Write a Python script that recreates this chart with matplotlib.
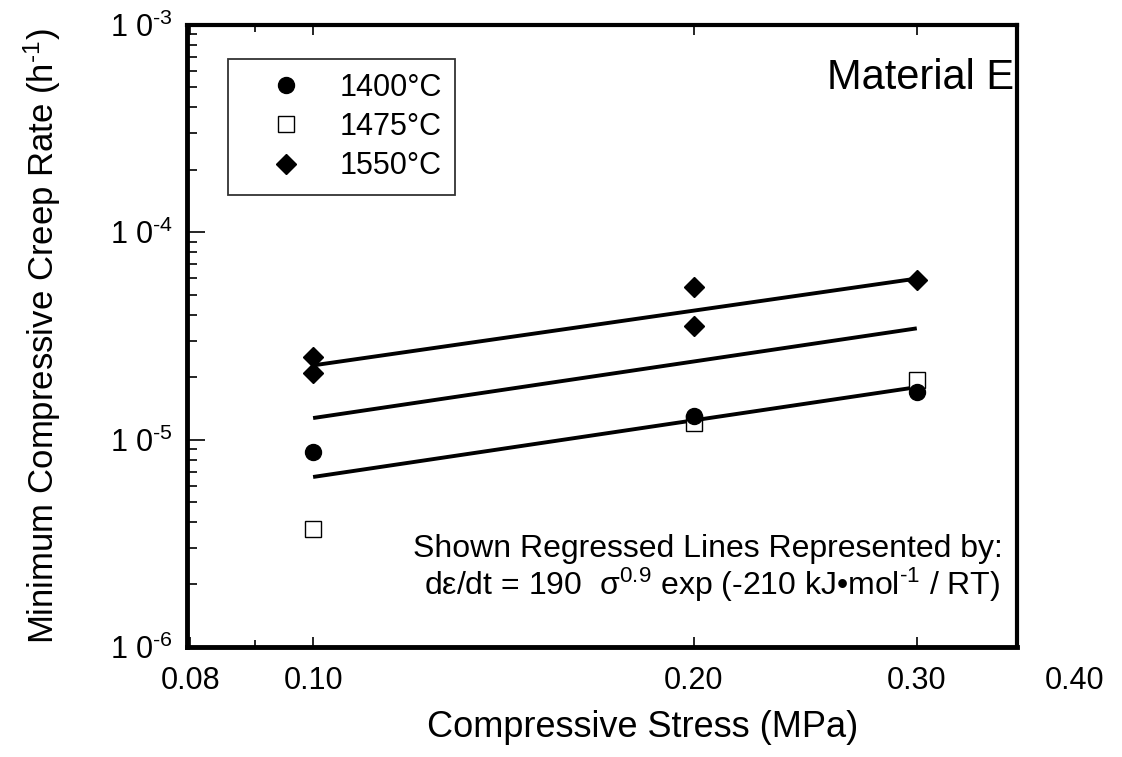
import matplotlib
matplotlib.use("Agg")
import matplotlib.pyplot as plt
from matplotlib.ticker import FixedLocator, NullFormatter, FixedFormatter, LogLocator
from matplotlib.transforms import ScaledTranslation

plt.rcParams['font.family'] = ['Liberation Sans', 'DejaVu Sans']
plt.rcParams['mathtext.fontset'] = 'custom'
plt.rcParams['mathtext.rm'] = 'Liberation Sans'
plt.rcParams['mathtext.it'] = 'Liberation Sans'
plt.rcParams['mathtext.bf'] = 'Liberation Sans'

# ---- data ----
stress_1400 = [0.1, 0.2, 0.3]
rate_1400 = [8.7e-6, 1.30e-5, 1.69e-5]
stress_1475 = [0.1, 0.2, 0.3]
rate_1475 = [3.7e-6, 1.2e-5, 1.93e-5]
stress_1550 = [0.1, 0.1, 0.2, 0.2, 0.3]
rate_1550 = [2.49e-5, 2.09e-5, 5.42e-5, 3.52e-5, 5.9e-5]

fit_stress = [0.1, 0.3]
fit_1400 = [6.6e-6, 1.79e-5]
fit_1475 = [1.27e-5, 3.44e-5]
fit_1550 = [2.28e-5, 5.98e-5]

legend_labels = ['1400°C', '1475°C', '1550°C']
xtick_vals = [0.08, 0.10, 0.20, 0.30]
xtick_labels = ['0.08', '0.10', '0.20', '0.30']
extra_xtick = 0.40
extra_xlabel = '0.40'
ytick_vals = [1e-6, 1e-5, 1e-4, 1e-3]
ytick_exps = ['6', '5', '4', '3']

fig = plt.figure(figsize=(11.22, 7.57), dpi=100)
ax = fig.add_axes([0.1667, 0.1455, 0.7397, 0.8215])

for fy in (fit_1400, fit_1475, fit_1550):
    ax.plot(fit_stress, fy, color='black', lw=2.8, solid_capstyle='butt', zorder=2)

ax.plot(stress_1400, rate_1400, 'o', ms=11.5, color='black', label=legend_labels[0], zorder=4)
ax.plot(stress_1475, rate_1475, 's', ms=11, mfc='white', mec='black', mew=1.0,
        label=legend_labels[1], zorder=3)
ax.plot(stress_1550, rate_1550, 'D', ms=10, color='black', label=legend_labels[2], zorder=4)

ax.set_xscale('log')
ax.set_yscale('log')
ax.set_xlim(0.0795, 0.36)
ax.set_ylim(1e-6, 1e-3)

TICK_FS = 22
XPAD = 14

ax.xaxis.set_major_locator(FixedLocator(xtick_vals))
ax.xaxis.set_major_formatter(FixedFormatter(xtick_labels))
ax.xaxis.set_minor_locator(FixedLocator([0.09]))
ax.xaxis.set_minor_formatter(NullFormatter())
off = ScaledTranslation(0, -XPAD / 72, fig.dpi_scale_trans)
ax.text(extra_xtick, 0, extra_xlabel, transform=ax.get_xaxis_transform() + off,
        ha='center', va='top', fontsize=TICK_FS, clip_on=False)

ax.yaxis.set_minor_locator(LogLocator(base=10, subs=range(2, 10), numticks=20))
ax.yaxis.set_minor_formatter(NullFormatter())
ax.set_yticks(ytick_vals)
ax.set_yticklabels([r'$\mathregular{1\ 0^{‐' + e + r'}}$' for e in ytick_exps])

ax.tick_params(axis='x', which='both', direction='in', top=True, bottom=True,
               labelsize=TICK_FS, pad=XPAD, width=1.2)
ax.tick_params(axis='x', which='major', length=7)
ax.tick_params(axis='x', which='minor', length=5)
ax.tick_params(axis='y', which='both', direction='in', left=True, right=False,
               labelsize=TICK_FS, pad=10, width=1.2)
ax.tick_params(axis='y', which='major', length=13)
ax.tick_params(axis='y', which='minor', length=7)

for s in ax.spines.values():
    s.set_linewidth(3)
    s.set_color('black')
ax.spines['left'].set_linewidth(3.5)
ax.spines['bottom'].set_linewidth(3.5)

ax.set_xlabel('Compressive Stress (MPa)', fontsize=26, labelpad=10)
ax.xaxis.label.set_x(0.549)
ax.set_ylabel(r'Minimum Compressive Creep Rate (h$^{\mathregular{‐1}}$)', fontsize=25, labelpad=34)

leg = ax.legend(loc='upper left', bbox_to_anchor=(0.049, 0.945), borderaxespad=0,
                fontsize=22, frameon=True, fancybox=False, edgecolor='black',
                handletextpad=0.3, labelspacing=0.3, borderpad=0.45, handlelength=2.9)
leg.get_frame().set_linewidth(1.3)

ax.text(0.996, 0.915, 'Material E', transform=ax.transAxes, ha='right', va='center', fontsize=30)
ax.text(0.983, 0.157, 'Shown Regressed Lines Represented by:', transform=ax.transAxes,
        ha='right', va='center', fontsize=23)
ax.text(0.98, 0.10, r'dε/dt = 190  σ$^{\mathregular{0.9}}$ exp (-210 kJ•mol$^{\mathregular{‐1}}$ / RT)',
        transform=ax.transAxes, ha='right', va='center', fontsize=23)

fig.savefig('out.png', dpi=100)
